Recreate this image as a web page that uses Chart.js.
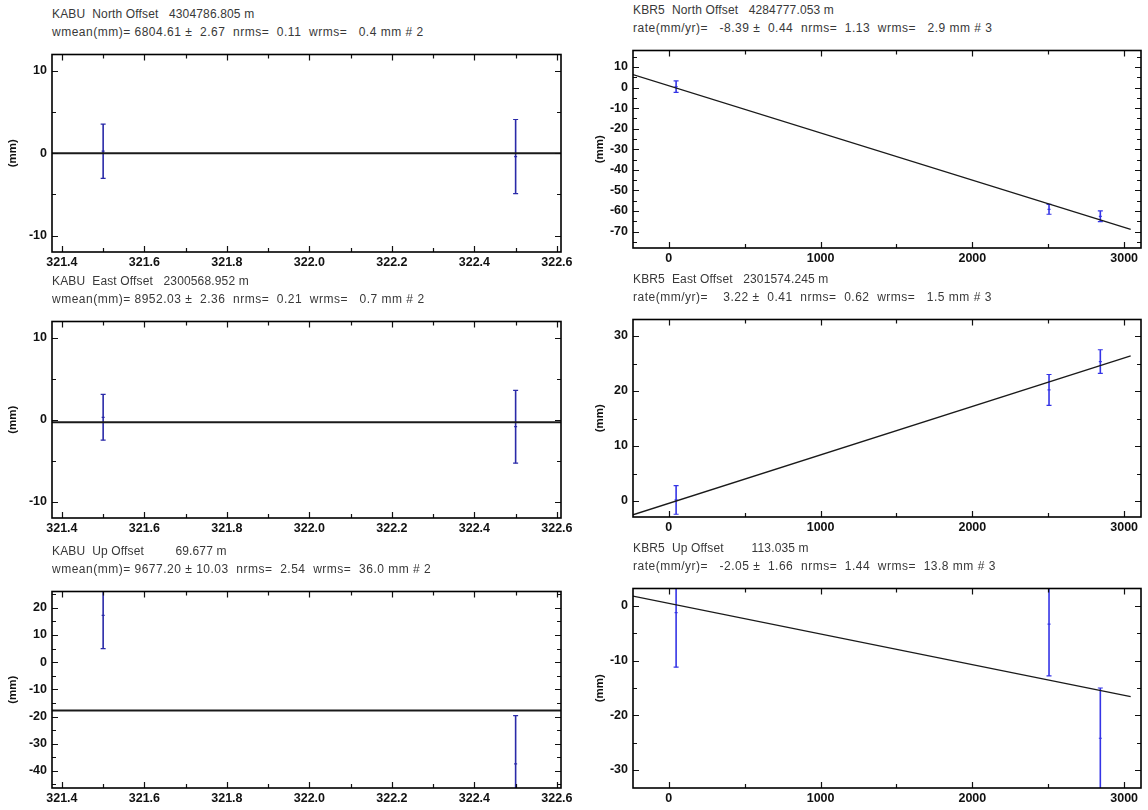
<!DOCTYPE html>
<html><head><meta charset="utf-8">
<script src="https://cdn.jsdelivr.net/npm/chart.js@4.4.1/dist/chart.umd.min.js"></script>
<style>
body{margin:0;background:#fff;width:1148px;height:810px;position:relative;overflow:hidden;font-family:"Liberation Sans",Arial,sans-serif;}
.hdr{position:absolute;font-size:12px;color:#383838;white-space:pre;line-height:18px;}
.hdr .l1{letter-spacing:0.15px;}
.hdr .l2{letter-spacing:0.5px;}
.wrap{position:absolute;overflow:hidden;}
.inner{position:absolute;left:0;top:0;}
</style></head><body>
<script>
// ---------- DATA ----------
// KABU (left column)
const kabuX = [321.5, 322.5];
const kabuNorth = [0.25, -0.4];
const kabuNorthErr = [3.3, 4.5];
const kabuEast = [0.3, -0.85];
const kabuEastErr = [2.8, 4.45];
const kabuUp = [17.2, -37.4];
const kabuUpErr = [12.2, 17.7];
const kabuMeanNorth = 0;
const kabuMeanEast = -0.3;
const kabuMeanUp = -17.8;
const kabuXRange = [321.376, 322.61];
const kabuXTicks = [321.4, 321.6, 321.8, 322.0, 322.2, 322.4, 322.6];
const kabuNEYTicks = [-10, 0, 10];
const kabuUpYTicks = [-40, -30, -20, -10, 0, 10, 20];

// KBR5 (right column), x in days
const kbr5X = [48, 2505, 2843];
const kbr5North = [0.4, -59.2, -62.6];
const kbr5NorthErr = [2.8, 2.4, 2.6];
const kbr5East = [0.2, 20.2, 25.35];
const kbr5EastErr = [2.6, 2.8, 2.15];
const kbr5Up = [-1.2, -3.3, -24.2];
const kbr5UpErr = [10.0, 9.5, 9.2];
const kbr5FitX = [-236, 3043];
const kbr5NorthFit = [6.3, -69.0];
const kbr5EastFit = [-2.5, 26.4];
const kbr5UpFit = [1.8, -16.6];
const kbr5XRange = [-236, 3111];
const kbr5XTicks = [0, 1000, 2000, 3000];
const kbr5NorthYTicks = [-70, -60, -50, -40, -30, -20, -10, 0, 10];
const kbr5EastYTicks = [0, 10, 20, 30];
const kbr5UpYTicks = [-30, -20, -10, 0];

// headers
const headers = {
  kabuN: ["KABU  North Offset   4304786.805 m", "wmean(mm)= 6804.61 \u00b1  2.67  nrms=  0.11  wrms=   0.4 mm # 2"],
  kabuE: ["KABU  East Offset   2300568.952 m", "wmean(mm)= 8952.03 \u00b1  2.36  nrms=  0.21  wrms=   0.7 mm # 2"],
  kabuU: ["KABU  Up Offset         69.677 m", "wmean(mm)= 9677.20 \u00b1 10.03  nrms=  2.54  wrms=  36.0 mm # 2"],
  kbrN: ["KBR5  North Offset   4284777.053 m", "rate(mm/yr)=   -8.39 \u00b1  0.44  nrms=  1.13  wrms=   2.9 mm # 3"],
  kbrE: ["KBR5  East Offset   2301574.245 m", "rate(mm/yr)=    3.22 \u00b1  0.41  nrms=  0.62  wrms=   1.5 mm # 3"],
  kbrU: ["KBR5  Up Offset        113.035 m", "rate(mm/yr)=   -2.05 \u00b1  1.66  nrms=  1.44  wrms=  13.8 mm # 3"]
};

// ---------- PLUGIN: frame with inward major/minor ticks ----------
const frameTicks = {
  id: 'frameTicks',
  afterDatasetsDraw(chart, args, opts) {
    const {ctx, chartArea: {left, right, top, bottom}, scales: {x, y}} = chart;
    ctx.save();
    ctx.strokeStyle = '#111';
    ctx.lineWidth = 1.2;
    const xh = opts.xStep / 2, yh = opts.yStep / 2;
    const eps = 1e-6;
    ctx.beginPath();
    for (let v = Math.ceil(x.min / xh - eps) * xh; v <= x.max + eps; v += xh) {
      const major = Math.abs(v / opts.xStep - Math.round(v / opts.xStep)) < 1e-4;
      const L = major ? 6 : 4;
      const px = Math.round(x.getPixelForValue(v)) + 0.5;
      ctx.moveTo(px, bottom); ctx.lineTo(px, bottom - L);
      ctx.moveTo(px, top); ctx.lineTo(px, top + L);
    }
    for (let v = Math.ceil(y.min / yh - eps) * yh; v <= y.max + eps; v += yh) {
      const major = Math.abs(v / opts.yStep - Math.round(v / opts.yStep)) < 1e-4;
      const L = major ? 6 : 4;
      const py = Math.round(y.getPixelForValue(v)) + 0.5;
      ctx.moveTo(left, py); ctx.lineTo(left + L, py);
      ctx.moveTo(right, py); ctx.lineTo(right - L, py);
    }
    ctx.stroke();
    ctx.lineWidth = 1.6;
    ctx.strokeStyle = '#000';
    ctx.strokeRect(left, top, right - left, bottom - top);
    ctx.restore();
  }
};

function addHeader(lines, left, top) {
  const d = document.createElement('div');
  d.className = 'hdr';
  d.style.left = left + 'px';
  d.style.top = top + 'px';
  lines.forEach((t, i) => {
    const s = document.createElement('div');
    s.className = i === 0 ? 'l1' : 'l2';
    s.textContent = t;
    d.appendChild(s);
  });
  document.body.appendChild(d);
}

function makeChart(o) {
  const padTop = 8, xH = 22, padBottom = 2;
  const h = padTop + (o.boxBottom - o.boxTop) + xH + padBottom;
  const wrap = document.createElement('div');
  wrap.className = 'wrap';
  wrap.style.left = o.left + 'px';
  wrap.style.top = (o.boxTop - padTop) + 'px';
  wrap.style.width = o.wrapWidth + 'px';
  wrap.style.height = h + 'px';
  const inner = document.createElement('div');
  inner.className = 'inner';
  inner.style.width = o.canvasWidth + 'px';
  inner.style.height = h + 'px';
  const cv = document.createElement('canvas');
  inner.appendChild(cv); wrap.appendChild(inner); document.body.appendChild(wrap);

  const datasets = [];
  datasets.push({
    type: 'line',
    data: o.lineX.map((xv, i) => ({x: xv, y: o.lineY[i]})),
    borderColor: '#1a1a1a', borderWidth: o.lineWidth, pointRadius: 0, fill: false
  });
  o.xs.forEach((xv, i) => {
    datasets.push({
      type: 'line',
      data: [{x: xv, y: o.vals[i] - o.errs[i]}, {x: xv, y: o.vals[i] + o.errs[i]}],
      borderColor: o.barColor, borderWidth: 1.6,
      pointStyle: 'line', pointRadius: 2.5, pointBorderColor: o.barColor, pointBorderWidth: 1.2,
      pointHoverRadius: 0, fill: false
    });
  });
  datasets.push({
    type: 'scatter',
    data: o.xs.map((xv, i) => ({x: xv, y: o.vals[i]})),
    pointStyle: 'line', pointRadius: 1.5, pointBorderColor: o.barColor, pointBorderWidth: 1.2,
    backgroundColor: o.barColor
  });

  const tickFont = {family: '"Liberation Sans", Arial, sans-serif', size: 12.5, weight: 'bold'};
  new Chart(cv, {
    type: 'scatter',
    data: {datasets},
    options: {
      responsive: true, maintainAspectRatio: false, animation: false,
      layout: {padding: {top: padTop, right: o.padRight, bottom: padBottom, left: 0}},
      plugins: {legend: {display: false}, tooltip: {enabled: false}, frameTicks: {xStep: o.xStep, yStep: o.yStep}},
      scales: {
        x: {
          type: 'linear', min: o.xRange[0], max: o.xRange[1],
          grid: {display: false, drawTicks: false}, border: {display: false},
          ticks: {autoSkip: false, maxRotation: 0, padding: 3, color: '#111', font: tickFont, callback: o.fmt},
          afterBuildTicks: s => { s.ticks = o.xTicks.map(v => ({value: v})); },
          afterFit: s => { s.height = xH; }
        },
        y: {
          type: 'linear', min: o.yRange[0], max: o.yRange[1],
          grid: {display: false, drawTicks: false}, border: {display: false},
          ticks: {autoSkip: false, padding: 5, color: '#111', font: tickFont, callback: v => String(v)},
          afterBuildTicks: s => { s.ticks = o.yTicks.map(v => ({value: v})); },
          title: {display: true, text: '(mm)', color: '#111', padding: {top: o.titlePad, bottom: 0},
                  font: {family: '"Liberation Sans", Arial, sans-serif', size: 11.5, weight: 'bold'}},
          afterFit: s => { s.width = o.yWidth; }
        }
      }
    },
    plugins: [frameTicks]
  });
}

// ---------- LEFT COLUMN ----------
const leftCommon = {left: 0, wrapWidth: 574, canvasWidth: 600, padRight: 39, yWidth: 52, titlePad: 6,
  xs: kabuX, xRange: kabuXRange, xTicks: kabuXTicks, xStep: 0.2, yStep: 10, barColor: '#2a2aa8', lineWidth: 2,
  fmt: v => Number(v).toFixed(1)};
const kabuLineX = [kabuXRange[0], kabuXRange[1]];

addHeader(headers.kabuN, 52, 5);
makeChart(Object.assign({}, leftCommon, {boxTop: 50, boxBottom: 252, vals: kabuNorth, errs: kabuNorthErr,
  lineX: kabuLineX, lineY: [kabuMeanNorth, kabuMeanNorth], yRange: [-12, 12], yTicks: kabuNEYTicks}));

addHeader(headers.kabuE, 52, 272);
makeChart(Object.assign({}, leftCommon, {boxTop: 317, boxBottom: 518, vals: kabuEast, errs: kabuEastErr,
  lineX: kabuLineX, lineY: [kabuMeanEast, kabuMeanEast], yRange: [-12, 12], yTicks: kabuNEYTicks}));

addHeader(headers.kabuU, 52, 542);
makeChart(Object.assign({}, leftCommon, {boxTop: 587, boxBottom: 788, vals: kabuUp, errs: kabuUpErr,
  lineX: kabuLineX, lineY: [kabuMeanUp, kabuMeanUp], yRange: [-46.3, 26], yTicks: kabuUpYTicks}));

// ---------- RIGHT COLUMN ----------
const rightCommon = {left: 574, wrapWidth: 574, canvasWidth: 574, padRight: 7, yWidth: 59, titlePad: 19,
  xs: kbr5X, xRange: kbr5XRange, xTicks: kbr5XTicks, xStep: 1000, yStep: 10, barColor: '#3434e6', lineWidth: 1.3,
  lineX: kbr5FitX, fmt: v => String(v)};

addHeader(headers.kbrN, 633, 1);
makeChart(Object.assign({}, rightCommon, {boxTop: 46, boxBottom: 248, vals: kbr5North, errs: kbr5NorthErr,
  lineY: kbr5NorthFit, yRange: [-78, 18], yTicks: kbr5NorthYTicks}));

addHeader(headers.kbrE, 633, 270);
makeChart(Object.assign({}, rightCommon, {boxTop: 315, boxBottom: 517, vals: kbr5East, errs: kbr5EastErr,
  lineY: kbr5EastFit, yRange: [-2.9, 33], yTicks: kbr5EastYTicks}));

addHeader(headers.kbrU, 633, 539);
makeChart(Object.assign({}, rightCommon, {boxTop: 584, boxBottom: 788, vals: kbr5Up, errs: kbr5UpErr,
  lineY: kbr5UpFit, yRange: [-33.3, 3.2], yTicks: kbr5UpYTicks}));
</script>
</body></html>
